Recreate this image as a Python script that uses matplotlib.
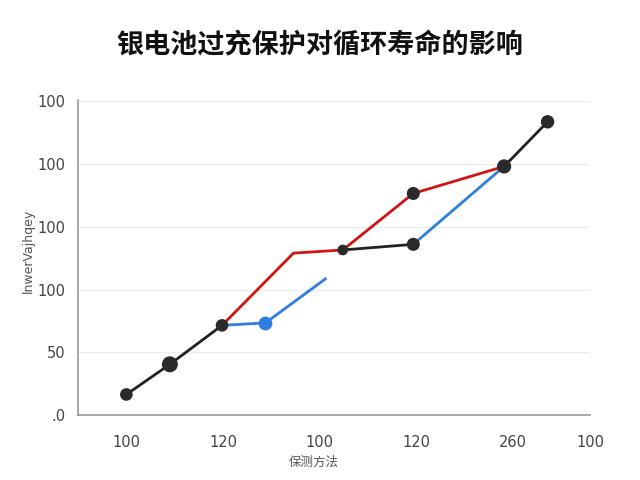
import numpy as np
import matplotlib
matplotlib.use("Agg")
import matplotlib.pyplot as plt

plt.rcParams['font.family'] = ['Noto Sans CJK SC', 'DejaVu Sans']

# data (axis units)
base_x = [0, 0.45, 0.99, np.nan, 2.24, 2.97, np.nan, 3.91, 4.36]
base_y = [0.33, 0.81, 1.43, np.nan, 2.63, 2.72, np.nan, 3.96, 4.67]

red_x = [0.99, 1.73, 2.24, 2.97, 3.91]
red_y = [1.43, 2.58, 2.63, 3.53, 3.96]

blue_x = [0.99, 1.44, 2.06, np.nan, 2.97, 3.91]
blue_y = [1.43, 1.47, 2.17, np.nan, 2.72, 3.96]

dot_x = [0, 0.45, 0.99, 2.24, 2.97, 2.97, 3.91, 4.36]
dot_y = [0.33, 0.81, 1.43, 2.63, 2.72, 3.53, 3.96, 4.67]
dot_s = [65, 110, 65, 45, 70, 70, 85, 75]

xtick_pos = [0, 1, 2, 3, 4, 4.8]
xtick_labels = ["100", "120", "100", "120", "260", "100"]
ytick_pos = [0, 1, 2, 3, 4, 5]
ytick_labels = [".0", "50", "100", "100", "100", "100"]

fig = plt.figure(figsize=(6.4, 4.8), dpi=100)
ax = fig.add_axes([0.122, 0.135, 0.8, 0.657])

ax.plot(red_x, red_y, color="#d01414", lw=2.0, zorder=2)
ax.plot(blue_x, blue_y, color="#2f7fe0", lw=2.0, zorder=2)
ax.scatter([1.44], [1.47], s=80, color="#2f7fe0", zorder=3)
ax.plot(base_x, base_y, color="#222222", lw=2.0, zorder=4)
ax.scatter(dot_x, dot_y, s=dot_s, color="#2a2a2a", zorder=5)

ax.set_xlim(-0.5, 4.8)
ax.set_ylim(0, 5.02)
ax.set_xticks(xtick_pos)
ax.set_xticklabels(xtick_labels, family="DejaVu Sans")
ax.set_yticks(ytick_pos)
ax.set_yticklabels(ytick_labels, family="DejaVu Sans")
ax.tick_params(length=0, labelsize=10.5, labelcolor="#444444")
ax.tick_params(axis="x", pad=14)
ax.tick_params(axis="y", pad=9)

ax.grid(axis="y", color="#ececec", lw=0.8)
ax.set_axisbelow(True)
for s in ["top", "right"]:
    ax.spines[s].set_visible(False)
for s in ["left", "bottom"]:
    ax.spines[s].set_color("#999999")
    ax.spines[s].set_linewidth(1.2)

ax.set_xlabel("保测方法", fontsize=9, color="#555555")
ax.xaxis.set_label_coords(0.46, -0.13)
ax.set_ylabel("lnwerVajhqey", fontsize=9, color="#555555", family="DejaVu Sans")
ax.yaxis.set_label_coords(-0.085, 0.52)

fig.text(0.5, 0.905, "银电池过充保护对循环寿命的影响", ha="center", va="center",
         fontsize=19.5, fontweight="bold", color="#111111")

fig.savefig("out.png", dpi=100)
